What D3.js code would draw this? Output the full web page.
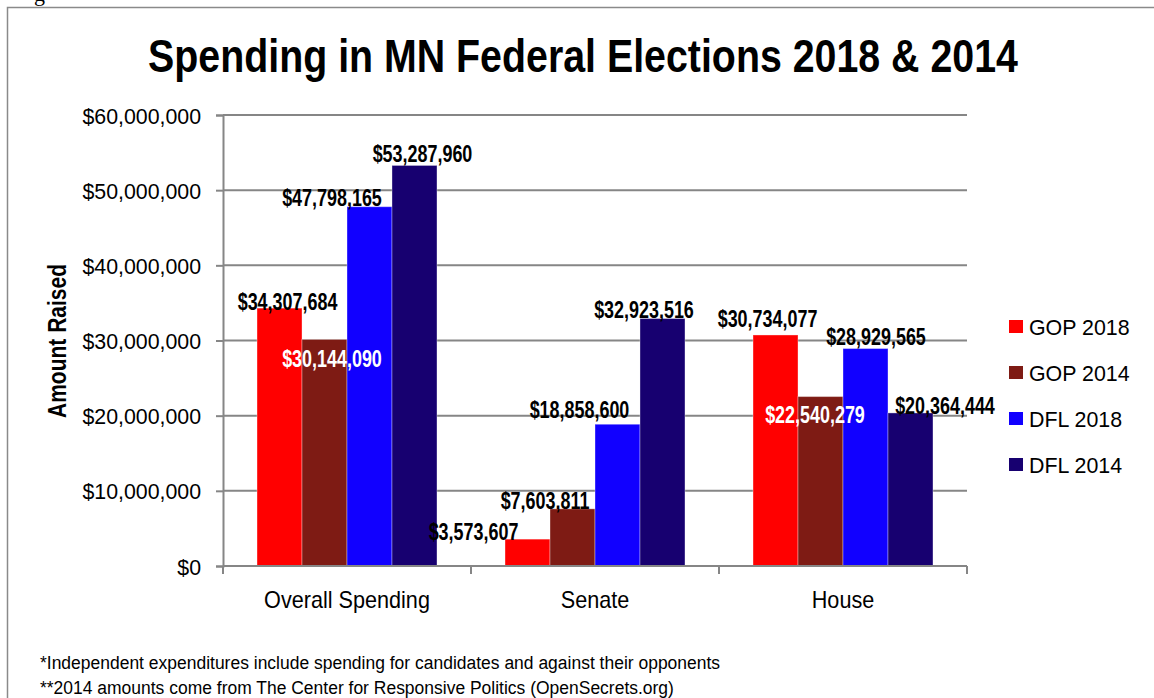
<!DOCTYPE html>
<html>
<head>
<meta charset="utf-8">
<script src="https://cdn.jsdelivr.net/npm/d3@7/dist/d3.min.js"></script>
<style>
  html, body { margin: 0; padding: 0; background: #ffffff; }
  svg { display: block; }
  text { font-family: "Liberation Sans", Arial, sans-serif; fill: #000; }
</style>
</head>
<body>
<svg id="chart" width="1154" height="698"></svg>
<script>
// ---- data ----
const categories = ["Overall Spending", "Senate", "House"];
const seriesNames = ["GOP 2018", "GOP 2014", "DFL 2018", "DFL 2014"];
const gop2018 = [34307684, 3573607, 30734077];
const gop2014 = [30144090, 7603811, 22540279];
const dfl2018 = [47798165, 18858600, 28929565];
const dfl2014 = [53287960, 32923516, 20364444];
const yTicks = [0, 10000000, 20000000, 30000000, 40000000, 50000000, 60000000];
const footnotes = [
  "*Independent expenditures include spending for candidates and against their opponents",
  "**2014 amounts come from The Center for Responsive Politics (OpenSecrets.org)"
];

// ---- style / layout ----
const colors = ["#ff0000", "#7e1b14", "#1100ff", "#170070"];
// manual label nudges (dx from bar centre, dy from bar top), per series per category
const labelDx = [[8, -54, -8], [7.5, -27.5, -5.5], [-37.5, -38, 10.5], [8, -18.5, 34.5]];
const labelDy = [[2, 1, -8], [28, 0, 26], [-1, -6, -4], [-3, -1, 1]];
const labelWhite = [[false, false, false], [true, false, true], [false, false, false], [false, false, false]];
const seriesValues = [gop2018, gop2014, dfl2018, dfl2014];

const svg = d3.select("#chart");
const gray = "#868686";

function addText(parent, x, y, str, size, weight, sx, anchor, rot) {
  return parent.append("text")
    .attr("transform", `translate(${x},${y})` + (rot ? ` rotate(${rot})` : "") + ` scale(${sx},1)`)
    .attr("text-anchor", anchor || "start")
    .style("font-size", size + "px")
    .style("font-weight", weight || "normal")
    .text(str);
}

// outer frame
svg.append("rect").attr("x", 7.5).attr("y", 7.5).attr("width", 1300).attr("height", 800)
  .attr("fill", "none").attr("stroke", "#8a8a8a").attr("stroke-width", 1.5);
svg.append("text").attr("x", 34).attr("y", 1).style("font-family", "'Liberation Serif', serif")
  .style("font-size", "22px").text("g");

const x = d3.scaleBand().domain(categories).range([223, 967]).paddingInner(0).paddingOuter(0);
const xs = d3.scaleBand().domain(seriesNames).range([0, x.bandwidth()]).paddingInner(0).paddingOuter(0.756);
const y = d3.scaleLinear().domain([0, 60000000]).range([566, 115]);

// gridlines
svg.append("g").selectAll("line").data(yTicks.filter(d => d > 0)).join("line")
  .attr("x1", 223).attr("x2", 967).attr("y1", d => y(d)).attr("y2", d => y(d))
  .attr("stroke", gray).attr("stroke-width", 2);

// y axis
const yAxis = svg.append("g").attr("transform", "translate(223,0)")
  .call(d3.axisLeft(y).tickValues(yTicks).tickSize(7).tickPadding(16)
    .tickFormat(d => "$" + d3.format(",")(d)));
yAxis.select(".domain").attr("stroke", gray).attr("stroke-width", 2);
yAxis.selectAll(".tick line").attr("stroke", gray).attr("stroke-width", 2);
yAxis.selectAll(".tick text").each(function () {
  const t = d3.select(this);
  const tx = +t.attr("x");
  t.attr("x", null).attr("dy", null)
    .attr("transform", `translate(${tx + 1},8) scale(0.97,1)`)
    .style("font-size", "22px").attr("fill", "#000");
});

// bars
const barG = svg.append("g");
seriesNames.forEach((s, si) => {
  barG.selectAll(null).data(categories).join("rect")
    .attr("x", c => x(c) + xs(s))
    .attr("y", (c, ci) => y(seriesValues[si][ci]))
    .attr("width", xs.bandwidth())
    .attr("height", (c, ci) => y(0) - y(seriesValues[si][ci]))
    .attr("fill", colors[si])
    .attr("stroke", "rgba(255,255,255,0.35)").attr("stroke-width", 1);
});

// x axis
const xAxisG = svg.append("g");
xAxisG.append("line").attr("x1", 223).attr("x2", 967).attr("y1", y(0)).attr("y2", y(0))
  .attr("stroke", gray).attr("stroke-width", 2);
const xBounds = categories.map(c => x(c)).concat([x.range()[1]]);
xAxisG.selectAll(".xt").data(xBounds).join("line").attr("class", "xt")
  .attr("x1", d => d).attr("x2", d => d).attr("y1", y(0)).attr("y2", y(0) + 8)
  .attr("stroke", gray).attr("stroke-width", 2);
categories.forEach(c => addText(xAxisG, x(c) + x.bandwidth() / 2, 608, c, 23, "normal", 0.94, "middle"));

// data labels
const fmt = v => "$" + d3.format(",")(v);
seriesNames.forEach((s, si) => {
  categories.forEach((c, ci) => {
    const v = seriesValues[si][ci];
    const cx = x(c) + xs(s) + xs.bandwidth() / 2 + labelDx[si][ci];
    const by = y(v) + labelDy[si][ci];
    addText(svg, cx, by, fmt(v), 23, "bold", 0.78, "middle")
      .style("fill", labelWhite[si][ci] ? "#ffffff" : "#000000");
  });
});

// title
addText(svg, 583, 72, "Spending in MN Federal Elections 2018 & 2014", 47, "bold", 0.837, "middle");

// y axis title
addText(svg, 66, 341, "Amount Raised", 25, "bold", 0.84, "middle", -90);

// legend
const leg = svg.append("g");
seriesNames.forEach((s, i) => {
  const ly = 320 + i * 46;
  leg.append("rect").attr("x", 1009).attr("y", ly).attr("width", 14).attr("height", 13).attr("fill", colors[i]);
  addText(leg, 1029, ly + 15, s, 23, "normal", 0.93, "start");
});

// footnotes
footnotes.forEach((d, i) => addText(svg, 40, 669 + i * 25, d, 19, "normal", 0.92, "start"));
</script>
</body>
</html>
